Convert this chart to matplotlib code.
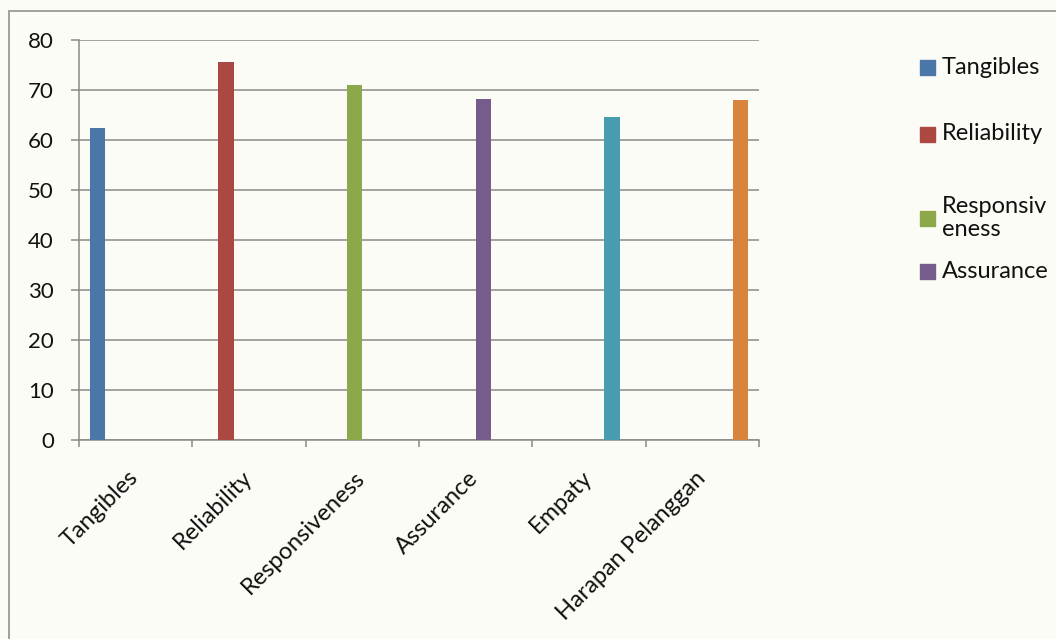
import matplotlib
matplotlib.use('Agg')
import matplotlib.pyplot as plt
from matplotlib.lines import Line2D
from matplotlib.patches import Rectangle

# Data
categories = ['Tangibles', 'Reliability', 'Responsiveness', 'Assurance', 'Empaty', 'Harapan Pelanggan']
values = [62.4, 75.6, 70.9, 68.2, 64.6, 68.0]
colors = ['#4a76a8', '#aa4841', '#8ca84a', '#765c8c', '#489cb0', '#d8843c']
legend_labels = ['Tangibles', 'Reliability', 'Responsiv\neness', 'Assurance']
yticks = [0, 10, 20, 30, 40, 50, 60, 70, 80]

plt.rcParams['font.family'] = ['Lato', 'DejaVu Sans']
bg = '#fcfcf6'
grid_col = '#8a8a8a'
txt_col = '#111111'

fig = plt.figure(figsize=(10.56, 6.39), dpi=100, facecolor=bg)
W, H = 1056, 639

# outer chart border (left and top edges visible)
fig.add_artist(Line2D([9 / W, 9 / W], [0, 1 - 11 / H], color='#a0a0a0', lw=1.4))
fig.add_artist(Line2D([9 / W, 1], [1 - 11 / H, 1 - 11 / H], color='#a0a0a0', lw=1.4))

ax = fig.add_axes([79 / W, 1 - 440 / H, 680 / W, 400 / H])
ax.set_facecolor(bg)

n = len(categories)
bw = 0.135
for i, (cat, val) in enumerate(zip(categories, values)):
    # clustered layout: each category only holds its own series
    xpos = i + (i - (n - 1) / 2) * bw
    ax.bar(xpos, val, width=bw, color=colors[i], zorder=3)

ax.set_xlim(-0.5, n - 0.5)
ax.set_ylim(0, 80)
ax.set_yticks(yticks)
ax.yaxis.grid(True, color=grid_col, lw=1.1, zorder=1)

# major ticks at category boundaries, labels on minor ticks near the centres
ax.set_xticks([k - 0.5 for k in range(n + 1)])
ax.set_xticklabels([])
ax.set_xticks([k - 0.07 for k in range(n)], minor=True)
ax.set_xticklabels(categories, minor=True, rotation=45, ha='right', va='top',
                   rotation_mode='anchor', fontsize=17, color=txt_col)
ax.tick_params(axis='x', which='major', length=5, width=1.1, color=grid_col, direction='out')
ax.tick_params(axis='x', which='minor', length=0, pad=19.5)
ax.tick_params(axis='y', length=6, width=1.1, color=grid_col, direction='out',
               labelsize=16, pad=12, labelcolor=txt_col)
for s in ['top', 'right']:
    ax.spines[s].set_visible(False)
for s in ['left', 'bottom']:
    ax.spines[s].set_color(grid_col)
    ax.spines[s].set_linewidth(1.1)

# legend, drawn by hand to keep the Excel spacing (last entries are clipped)
leg_y = [67, 134, 218, 271]
for lab, col, yc in zip(legend_labels, colors, leg_y):
    fig.add_artist(Rectangle((920 / W, 1 - (yc + 7.5) / H), 15 / W, 15 / H,
                             color=col, transform=fig.transFigure))
    fig.text(942 / W, 1 - yc / H, lab, ha='left', va='center', fontsize=17,
             color=txt_col, linespacing=1.15)

fig.savefig('out.png', dpi=100, facecolor=bg)
